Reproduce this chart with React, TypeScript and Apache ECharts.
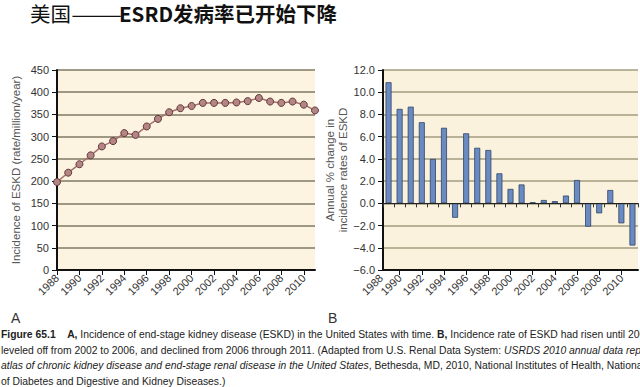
import React, { useEffect, useRef } from "react";
import * as echarts from "echarts";

// ---- Data ----
const yearsA = ["1988", "1989", "1990", "1991", "1992", "1993", "1994", "1995", "1996", "1997", "1998", "1999", "2000", "2001", "2002", "2003", "2004", "2005", "2006", "2007", "2008", "2009", "2010", "2011"];
const incidence = [198, 219, 238, 258, 278, 290, 308, 304, 323, 340, 355, 364, 369, 376, 376, 376, 377, 380, 387, 379, 376, 379, 372, 359];

const yearsB = ["1989", "1990", "1991", "1992", "1993", "1994", "1995", "1996", "1997", "1998", "1999", "2000", "2001", "2002", "2003", "2004", "2005", "2006", "2007", "2008", "2009", "2010", "2011"];
const annualChange = [10.9, 8.5, 8.7, 7.3, 4.0, 6.8, -1.3, 6.3, 5.0, 4.8, 2.7, 1.3, 1.7, 0.1, 0.3, 0.2, 0.7, 2.1, -2.1, -0.9, 1.2, -1.8, -3.8];
const firstLabelB = "1988";

const titleCountry = "美国";
const titleDash = "——";
const titleBold = "ESRD发病率已开始下降";
const yNameA = "Incidence of ESKD (rate/million/year)";
const yNameB = "Annual % change in\nincidence rates of ESKD";

const captionLines = [
  "{b|Figure 65.1}    {b|A,} Incidence of end-stage kidney disease (ESKD) in the United States with time. {b|B,} Incidence rate of ESKD had risen until 2001,",
  "leveled off from 2002 to 2006, and declined from 2006 through 2011. (Adapted from U.S. Renal Data System: {i|USRDS 2010 annual data report:}",
  "{i|atlas of chronic kidney disease and end-stage renal disease in the United States}, Bethesda, MD, 2010, National Institutes of Health, National Institutes",
  "of Diabetes and Digestive and Kidney Diseases.)",
];

const FONT = "Liberation Sans";
const CJK = "Noto Sans CJK SC";

// grid B geometry
const B_LEFT = 383;
const B_TOP = 70;
const B_W = 255;
const B_H = 200;
const B_MIN = -6;
const B_MAX = 12;

export default function App() {
  const ref = useRef<HTMLDivElement>(null);

  useEffect(() => {
    document.body.style.margin = "0";
    const chart = echarts.init(ref.current!, null, { renderer: "svg" });

    const evenYear = (_i: number, v: string) => Number(v) % 2 === 0;
    const zeroHeight = (B_H * B_MAX) / (B_MAX - B_MIN);

    const option: any = {
      animation: false,
      backgroundColor: "#ffffff",
      textStyle: { fontFamily: FONT },
      grid: [
        { left: 57, top: 70, width: 258, height: 200, show: true, backgroundColor: "#fcf3e1", borderWidth: 0 },
        { left: B_LEFT, top: B_TOP, width: B_W, height: B_H, show: true, backgroundColor: "#fbf2de", borderWidth: 0 },
        { left: B_LEFT, top: B_TOP, width: B_W, height: zeroHeight, show: false },
      ],
      xAxis: [
        {
          type: "category",
          gridIndex: 0,
          data: yearsA,
          boundaryGap: false,
          axisLine: { lineStyle: { color: "#111", width: 2 } },
          axisTick: { show: true, interval: 1, length: 5, lineStyle: { color: "#111", width: 1 } },
          axisLabel: { interval: 1, rotate: 45, fontSize: 11, color: "#333", margin: 6, fontFamily: FONT },
          splitLine: { show: false },
        },
        {
          type: "category",
          gridIndex: 1,
          data: yearsB,
          position: "bottom",
          boundaryGap: true,
          axisLine: { onZero: false, lineStyle: { color: "#111", width: 2 } },
          axisTick: { show: true, alignWithLabel: true, interval: evenYear, length: 5, lineStyle: { color: "#111", width: 1 } },
          axisLabel: { interval: evenYear, rotate: 45, fontSize: 11, color: "#333", margin: 6, fontFamily: FONT },
          splitLine: { show: false },
        },
        {
          type: "category",
          gridIndex: 2,
          data: yearsB,
          position: "bottom",
          boundaryGap: true,
          z: 4,
          axisLine: { onZero: false, lineStyle: { color: "#222", width: 1.2 } },
          axisTick: { show: true, interval: 0, length: 4, lineStyle: { color: "#333", width: 1 } },
          axisLabel: { show: false },
          splitLine: { show: false },
        },
      ],
      yAxis: [
        {
          type: "value",
          gridIndex: 0,
          min: 0,
          max: 450,
          interval: 50,
          name: yNameA,
          nameLocation: "middle",
          nameGap: 35,
          nameTextStyle: { fontSize: 11.5, color: "#555", fontFamily: FONT },
          axisLine: { show: true, lineStyle: { color: "#111", width: 2 } },
          axisTick: { show: true, length: 5, lineStyle: { color: "#111" } },
          axisLabel: { fontSize: 11, color: "#333", margin: 8, fontFamily: FONT },
          splitLine: { show: true, lineStyle: { color: "#7f7a62", width: 1.5 } },
        },
        {
          type: "value",
          gridIndex: 1,
          min: B_MIN,
          max: B_MAX,
          interval: 2,
          name: yNameB,
          nameLocation: "middle",
          nameGap: 30,
          nameTextStyle: { fontSize: 11.5, color: "#555", lineHeight: 13, fontFamily: FONT },
          axisLine: { show: true, lineStyle: { color: "#111", width: 2 } },
          axisTick: { show: true, length: 5, lineStyle: { color: "#111" } },
          axisLabel: {
            fontSize: 11,
            color: "#333",
            margin: 8,
            fontFamily: FONT,
            formatter: (v: number) => (v < 0 ? "\u2212" : "") + Math.abs(v).toFixed(1),
          },
          splitLine: { show: true, lineStyle: { color: "#a29c7e", width: 1.5 } },
        },
        {
          type: "value",
          gridIndex: 2,
          min: 0,
          max: B_MAX,
          show: false,
        },
      ],
      series: [
        {
          type: "line",
          xAxisIndex: 0,
          yAxisIndex: 0,
          data: incidence,
          symbol: "circle",
          symbolSize: 7,
          lineStyle: { color: "#a8706e", width: 1.5 },
          itemStyle: { color: "#b58585", borderColor: "#5e3a3a", borderWidth: 1 },
          z: 5,
        },
        {
          type: "bar",
          xAxisIndex: 1,
          yAxisIndex: 1,
          data: annualChange,
          barWidth: 6,
          itemStyle: { color: "#6a8bc2", borderColor: "#2f4266", borderWidth: 0.8 },
          z: 3,
        },
      ],
      graphic: [
        {
          type: "text",
          x: 30,
          y: 12.5,
          style: { text: titleCountry, fontSize: 20.5, fontWeight: "normal", fill: "#111", fontFamily: CJK, verticalAlign: "middle" },
        },
        {
          type: "group",
          x: 71,
          y: 12.5,
          scaleX: 1.49,
          children: [
            {
              type: "text",
              x: 0,
              y: 0,
              style: { text: titleDash, fontSize: 20.5, fontWeight: "normal", fill: "#111", fontFamily: CJK, verticalAlign: "middle" },
            },
          ],
        },
        {
          type: "text",
          x: 119,
          y: 12.5,
          style: { text: titleBold, fontSize: 20.5, fontWeight: "bold", fill: "#111", fontFamily: CJK, verticalAlign: "middle" },
        },
        {
          type: "text",
          x: 381,
          y: 276,
          rotation: Math.PI / 4,
          style: { text: firstLabelB, align: "right", verticalAlign: "middle", fontSize: 11, fill: "#333", fontFamily: FONT },
        },
        {
          type: "text",
          x: 11,
          y: 318,
          style: { text: "A", fontSize: 14, fill: "#333", verticalAlign: "middle", fontFamily: FONT },
        },
        {
          type: "text",
          x: 328,
          y: 318,
          style: { text: "B", fontSize: 14, fill: "#333", verticalAlign: "middle", fontFamily: FONT },
        },
        {
          type: "group",
          x: 1,
          y: 0,
          scaleX: 0.9,
          scaleY: 1,
          children: captionLines.map((line, i) => ({
            type: "text",
            x: 0,
            y: 334 + i * 15.5,
            style: {
              text: line,
              fontSize: 11.5,
              fill: "#222",
              verticalAlign: "middle",
              fontFamily: FONT,
              rich: {
                b: { fontWeight: "bold", fontSize: 11.5, fill: "#222", fontFamily: FONT },
                i: { fontStyle: "italic", fontSize: 11.5, fill: "#222", fontFamily: FONT },
              },
            },
          })),
        },
      ],
    };

    chart.setOption(option);
    return () => chart.dispose();
  }, []);

  return (
    <div
      ref={ref}
      style={{ width: 640, height: 387, position: "absolute", left: 0, top: 0, background: "#fff" }}
    />
  );
}
